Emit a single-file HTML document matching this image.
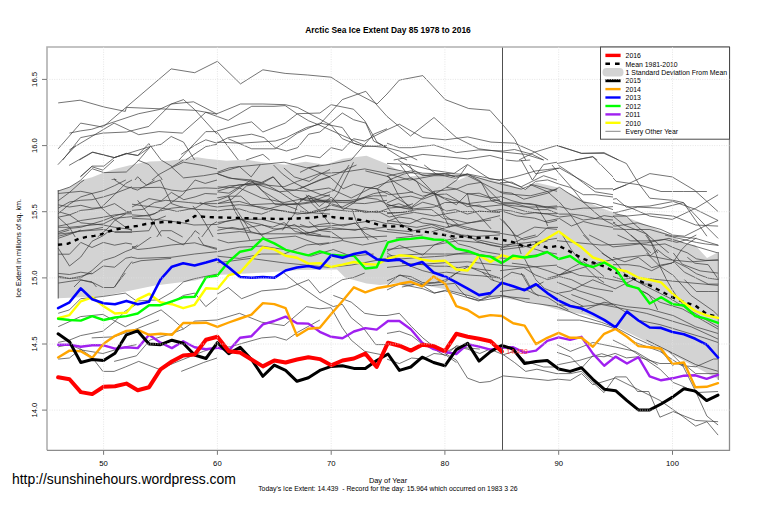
<!DOCTYPE html>
<html><head><meta charset="utf-8"><style>html,body{margin:0;padding:0;background:#fff;}svg{display:block;}</style></head>
<body><svg width="760" height="506" viewBox="0 0 760 506">
<defs><clipPath id="c4"><rect x="47" y="160" width="170" height="20"/><rect x="132" y="237" width="85" height="36"/></clipPath><clipPath id="c7"><rect x="557" y="140" width="170" height="25"/><rect x="613" y="165" width="114" height="88"/><rect x="557" y="240" width="56" height="13"/></clipPath></defs>
<rect x="0" y="0" width="760" height="506" fill="#fff"/>
<polygon points="58.0,191.0 69.7,187.1 80.3,180.5 92.1,177.2 104.0,172.6 115.8,168.7 129.0,165.4 142.1,162.8 150.0,161.4 169.5,160.8 197.0,157.3 206.8,158.8 226.5,160.8 246.3,159.8 266.0,162.7 285.8,164.7 305.6,161.7 325.3,164.7 342.8,158.8 366.5,155.8 386.3,163.7 410.0,176.6 429.8,174.6 445.6,175.6 457.4,180.5 469.3,175.6 478.9,177.5 502.6,182.5 524.3,189.4 536.2,182.5 557.9,187.4 577.7,197.3 580.0,199.0 602.7,208.4 631.0,219.0 655.0,228.6 671.5,235.7 685.7,244.0 695.0,245.0 707.0,258.0 718.0,252.3 718.0,379.0 672.0,354.6 619.0,328.0 586.0,314.9 559.0,310.0 536.0,303.0 502.0,298.0 479.0,298.0 467.0,296.0 445.6,289.3 406.0,282.0 380.0,284.9 366.5,283.4 345.0,277.6 337.0,269.5 300.0,270.0 266.0,272.5 217.0,275.0 195.0,280.5 155.0,285.5 103.0,296.3 58.0,298.3" fill="#d3d3d3" stroke="none"/>
<g fill="none" stroke="#383838" stroke-width="0.7" stroke-linejoin="round">
<polyline points="58.2,102.9 80.1,100.2 104.0,107.0 125.3,111.4 126.4,107.4 194.7,110.3 217.0,114.1"/>
<polyline points="58.2,148.8 80.6,123.1 102.9,127.1 171.2,68.9 194.7,72.7 217.0,61.5"/>
<polyline points="69.4,133.1 80.6,130.9 91.7,129.3 114.1,121.9 138.7,113.7 158.9,109.6 171.2,104.0 183.5,99.6 194.7,109.6 217.0,134.2"/>
<polyline points="69.4,149.9 114.1,123.1 138.7,134.7 158.9,131.6 182.3,133.1 205.8,112.3 217.0,116.4"/>
<polyline points="80.6,137.6 102.9,133.1 126.4,132.0 148.8,126.4 171.2,104.0 193.5,101.8 217.0,114.1"/>
<polyline points="62.7,160.0 80.6,137.6"/>
<polyline points="79.4,160.0 92.9,152.1 114.1,157.7 126.4,153.3 137.6,155.5 148.8,143.6 161.1,160.0"/>
<polyline points="114.1,157.7 149.9,146.6 161.1,144.3 171.2,136.5 183.5,142.1 194.7,160.0"/>
<polyline points="179.0,160.0 194.7,143.2 205.8,131.6 217.0,131.6"/>
<polyline points="181.2,154.4 194.7,145.4 205.8,139.8 217.0,143.2"/>
<polyline points="185.7,160.0 205.8,146.6 217.0,144.3"/>
</g>
<g fill="none" stroke="#383838" stroke-width="0.7" stroke-linejoin="round">
<polyline points="217.0,60.9 240.5,83.9 262.9,69.8 285.2,73.4 307.6,75.0 331.1,77.2 353.5,91.7 377.0,104.0 387.0,94.0"/>
<polyline points="217.0,113.7 240.5,104.0 262.9,104.0 285.2,104.7 297.5,107.4 318.8,118.6 331.1,125.3 342.3,138.7 353.5,143.2 364.7,146.6 387.0,145.4"/>
<polyline points="217.0,116.4 228.2,120.4 251.7,106.3 274.0,106.3 285.2,105.6 297.5,114.1 308.7,120.8 319.9,125.3 342.3,135.4 364.7,145.4 387.0,147.7"/>
<polyline points="217.0,130.9 240.5,124.2 251.7,121.9 262.9,132.0 285.2,123.1 297.5,113.7 319.9,113.0 331.1,104.7 353.5,109.2 364.7,120.8 377.0,142.1 387.0,147.7"/>
<polyline points="217.0,143.2 228.2,137.6 251.7,134.2 264.0,137.6 275.2,147.7 286.4,151.0 297.5,147.7 308.7,134.2 319.9,132.0 342.3,113.0 353.5,119.7 365.8,123.1 373.6,141.0 387.0,147.7"/>
<polyline points="228.2,138.7 251.7,148.8 275.2,148.8 297.5,133.1 319.9,123.1 342.3,127.5 353.5,143.2 364.7,146.6"/>
<polyline points="217.0,142.1 240.5,143.2 275.2,141.0 286.4,137.6 306.5,127.5 319.9,124.2 342.3,99.6 365.8,91.3 377.0,105.2 387.0,116.4"/>
<polyline points="217.0,132.0 238.3,160.0"/>
<polyline points="246.1,160.0 262.9,154.4 269.6,160.0"/>
<polyline points="290.8,160.0 306.5,155.5 319.9,157.7 331.1,147.7 342.3,150.4 353.5,138.7 364.7,141.0 387.0,129.8"/>
<polyline points="351.2,160.0 373.6,134.2 387.0,128.7"/>
</g>
<g fill="none" stroke="#383838" stroke-width="0.7" stroke-linejoin="round">
<polyline points="387.0,94.0 399.3,80.1 422.8,75.6 445.2,99.6 468.7,108.5 489.9,110.3 503.3,125.3 514.5,138.7 525.7,160.0"/>
<polyline points="387.0,116.4 410.5,136.0 434.0,117.5 456.4,137.6 478.7,148.8 503.3,152.1 525.7,154.4 543.6,160.0"/>
<polyline points="387.0,129.8 399.3,124.2 422.8,137.6 445.2,139.8 467.5,136.9 491.0,142.1 514.5,143.2 534.7,152.1 548.1,160.0"/>
<polyline points="387.0,143.2 399.3,147.7 411.6,147.7 434.0,145.0 456.4,152.6 478.7,149.9 503.3,151.0 514.5,149.5 532.4,154.4 543.6,160.0"/>
<polyline points="387.0,147.7 399.3,151.0 417.2,160.0"/>
<polyline points="387.0,148.8 399.3,156.6 407.1,160.0"/>
<polyline points="393.7,160.0 422.8,154.4 445.2,156.6 467.5,158.9 489.9,155.5 503.3,158.9"/>
<polyline points="519.0,160.0 534.7,152.1 557.0,145.4"/>
</g>
<g fill="none" stroke="#383838" stroke-width="0.7" stroke-linejoin="round">
<polyline points="557.0,145.4 581.6,153.3 604.0,152.6 618.5,160.0"/>
<polyline points="574.9,160.0 592.8,156.6 597.3,160.0"/>
</g>
<g clip-path="url(#c4)" fill="none" stroke="#383838" stroke-width="0.7" stroke-linejoin="round">
<polyline points="58.2,191.3 69.4,193.6 91.7,189.1 114.1,179.0 125.3,185.7 136.5,189.1 147.7,184.6 158.9,181.3 171.2,186.8 183.5,191.3 203.6,189.1 217.0,188.0"/>
<polyline points="58.2,200.3 69.4,195.8 91.7,191.3 114.1,182.4 127.5,189.1 137.6,176.8 148.8,186.8 171.2,193.6 183.5,195.8 203.6,199.1 217.0,202.5"/>
<polyline points="58.2,204.7 80.6,196.9 102.9,194.7 114.1,195.8 137.6,200.3 148.8,201.4 158.9,198.0 171.2,193.6 194.7,189.1 217.0,191.3"/>
<polyline points="58.2,211.5 69.4,208.1 92.9,204.7 114.1,203.6 125.3,208.1 137.6,200.3 148.8,215.9 171.2,213.7 183.5,207.0 203.6,199.1 217.0,195.8"/>
<polyline points="58.2,215.9 80.6,213.7 102.9,213.7 114.1,211.5 137.6,213.7 148.8,217.0 171.2,211.5 194.7,203.6 217.0,209.2"/>
<polyline points="58.2,220.4 80.6,215.9 102.9,214.8 125.3,214.8 148.8,219.3 171.2,218.2 194.7,212.6 217.0,213.7"/>
<polyline points="58.2,227.1 80.6,222.6 102.9,218.2 126.4,217.0 148.8,215.9 171.2,221.5 194.7,224.9 217.0,223.8"/>
<polyline points="58.2,231.6 80.6,228.2 91.7,224.9 114.1,229.4 137.6,227.1 158.9,229.4 171.2,233.8 183.5,227.1 194.7,231.6 217.0,233.8"/>
<polyline points="58.2,237.2 80.6,232.7 102.9,229.4 114.1,228.2"/>
<polyline points="58.2,249.5 69.4,265.1 91.7,247.2 114.1,243.9 136.5,247.2 158.9,231.6 171.2,239.4 183.5,245.0 194.7,231.6 203.6,245.0 217.0,248.4"/>
<polyline points="58.2,254.0 80.6,249.5 102.9,248.4 125.3,245.0 137.6,249.5 148.8,248.4 171.2,245.0 194.7,242.8 217.0,249.5"/>
<polyline points="58.2,258.4 91.7,259.6 114.1,254.0 137.6,258.4 171.2,257.3 194.7,254.0 217.0,251.7"/>
<polyline points="69.4,273.0 91.7,265.1 114.1,260.7 137.6,245.0"/>
<polyline points="87.3,273.0 102.9,267.4 125.3,265.1 141.0,260.7 171.2,258.4"/>
<polyline points="80.6,176.8 91.7,166.7 102.9,170.1 114.1,160.0"/>
<polyline points="137.6,160.0 148.8,164.5 161.1,177.9 171.2,196.9 183.5,211.5 194.7,227.1"/>
<polyline points="161.1,160.0 172.3,166.7 183.5,160.0"/>
<polyline points="114.1,179.0 125.3,184.6 136.5,186.8 147.7,183.5 158.9,174.5 171.2,167.8 183.5,162.2 203.6,165.6 217.0,168.9"/>
<polyline points="171.2,166.7 183.5,177.9 203.6,175.7 217.0,173.4"/>
</g>
<g fill="none" stroke="#383838" stroke-width="0.7" stroke-linejoin="round">
<polyline points="217.0,173.4 239.4,166.7 261.7,164.5 284.1,162.2 306.5,167.8 328.9,164.5 351.2,160.0"/>
<polyline points="217.0,173.4 228.2,177.9 250.6,181.3 261.7,182.4 272.9,176.8 284.1,189.1 306.5,191.3 328.9,188.0 351.2,198.0 373.6,186.8 387.0,182.4"/>
<polyline points="217.0,191.3 239.4,184.6 261.7,184.6 284.1,186.8 297.5,181.3 319.9,173.4 342.3,172.3 364.7,168.9 387.0,173.4"/>
<polyline points="217.0,198.0 228.2,195.8 250.6,180.1 264.0,192.4 275.2,204.7 297.5,203.6 308.7,195.8 319.9,200.3 342.3,207.0 353.5,201.4 373.6,193.6 387.0,191.3"/>
<polyline points="217.0,203.6 239.4,201.4 250.6,204.7 272.9,203.6 297.5,204.7 319.9,201.4 342.3,202.5 364.7,203.6 387.0,200.3"/>
<polyline points="217.0,186.8 239.4,188.0 261.7,198.0 284.1,202.5 306.5,198.0 328.9,201.4 351.2,200.3 373.6,195.8 387.0,195.8"/>
<polyline points="217.0,207.0 239.4,204.7 261.7,207.0 284.1,211.5 306.5,213.7 328.9,209.2 351.2,211.5 373.6,211.5 387.0,211.5"/>
<polyline points="217.0,222.6 239.4,219.3 261.7,219.3 284.1,224.9 306.5,227.1 328.9,226.0 351.2,223.8 373.6,220.4 387.0,223.8"/>
<polyline points="217.0,227.1 239.4,229.4 261.7,224.9 272.9,227.1 284.1,222.6 295.3,231.6 306.5,233.8 319.9,229.4 342.3,229.4 364.7,229.4 387.0,227.1"/>
<polyline points="217.0,233.8 239.4,231.6 261.7,233.8 284.1,233.8 306.5,233.8 317.7,236.1 342.3,238.3 364.7,237.2 387.0,236.1"/>
<polyline points="217.0,239.4 228.2,242.8 250.6,240.5 272.9,238.3 295.3,236.1 319.9,245.0 342.3,240.5 362.4,245.0 387.0,240.5"/>
<polyline points="217.0,251.7 239.4,247.2 261.7,246.1 284.1,249.5 311.0,256.2 333.3,249.5 351.2,256.2 373.6,254.0"/>
<polyline points="217.0,256.2 239.4,258.4 261.7,254.0 284.1,254.0 306.5,245.0 328.9,242.8"/>
<polyline points="228.2,196.9 250.6,231.6"/>
<polyline points="353.5,162.2 337.8,193.6 322.1,213.7"/>
<polyline points="217.0,262.9 250.6,258.4 284.1,262.9 306.5,265.1 328.9,267.4 351.2,265.1 387.0,258.4"/>
</g>
<g fill="none" stroke="#383838" stroke-width="0.7" stroke-linejoin="round">
<polyline points="387.0,163.4 409.4,164.5 431.7,170.1 454.1,173.4 467.5,164.5 489.9,179.0 503.3,180.1 521.2,186.8 543.6,175.7 557.0,180.1"/>
<polyline points="398.2,160.0 422.8,175.7 445.2,173.4 467.5,174.5 489.9,181.3 503.3,184.6 521.2,189.1 532.4,184.6 557.0,191.3"/>
<polyline points="505.6,160.0 516.8,161.1 530.2,160.0"/>
<polyline points="521.2,160.0 532.4,180.1 543.6,164.5 557.0,162.2"/>
<polyline points="387.0,173.4 409.4,180.1 434.0,175.7 445.2,175.7 467.5,175.7 489.9,186.8 503.3,193.6 530.2,195.8 557.0,189.1"/>
<polyline points="387.0,182.4 411.6,177.9 434.0,193.6 456.4,204.7 467.5,193.6 489.9,198.0 503.3,202.5 530.2,203.6 557.0,209.2"/>
<polyline points="387.0,191.3 400.4,200.3 411.6,207.0 422.8,198.0 434.0,191.3 456.4,189.1 467.5,184.6 481.0,182.4 503.3,204.7 525.7,207.0 543.6,207.0 557.0,205.9"/>
<polyline points="387.0,204.7 409.4,209.2 434.0,207.0 445.2,202.5 458.6,202.5 481.0,207.0 503.3,204.7 525.7,211.5 543.6,213.7 557.0,213.7"/>
<polyline points="387.0,213.7 409.4,211.5 434.0,215.9 458.6,211.5 481.0,211.5 503.3,211.5 516.8,215.9 534.7,218.2 548.1,222.6 557.0,220.4"/>
<polyline points="387.0,220.4 409.4,223.8 422.8,218.2 445.2,222.6 467.5,229.4 489.9,231.6 503.3,233.8 516.8,236.1 534.7,227.1 557.0,229.4"/>
<polyline points="387.0,229.4 409.4,231.6 431.7,227.1 454.1,233.8 481.0,240.5 503.3,245.0 525.7,242.8 543.6,240.5 557.0,238.3"/>
<polyline points="387.0,249.5 409.4,247.2 434.0,245.0 458.6,240.5 481.0,242.8 503.3,247.2 521.2,245.0 543.6,251.7 557.0,254.0"/>
<polyline points="387.0,256.2 420.6,254.0 442.9,254.0 476.5,254.0 503.3,258.4 525.7,256.2 543.6,254.0"/>
<polyline points="503.3,220.4 512.3,231.6 516.8,240.5 521.2,254.0"/>
<polyline points="434.0,191.3 445.2,215.9 458.6,224.9"/>
<polyline points="387.0,267.4 409.4,265.1 442.9,262.9 467.5,261.8 498.9,265.1 525.7,267.4 557.0,265.1"/>
</g>
<g clip-path="url(#c7)" fill="none" stroke="#383838" stroke-width="0.7" stroke-linejoin="round">
<polyline points="557.0,145.6 581.6,153.4 604.0,153.4 626.4,163.5 638.7,183.6 649.8,198.2 673.3,200.4 683.4,202.6 695.7,220.5 706.9,236.2"/>
<polyline points="557.0,163.5 592.8,156.8 616.3,181.4 638.7,184.7 661.0,191.5 683.4,191.5 706.9,191.5"/>
<polyline points="557.0,166.8 592.8,188.1 604.0,193.7 626.4,184.7 649.8,173.6 672.2,176.9 694.6,190.3 718.1,211.6"/>
<polyline points="557.0,180.3 581.6,193.7 604.0,193.7 626.4,184.7"/>
<polyline points="557.0,193.7 581.6,193.7 601.7,201.5 616.3,198.6 626.4,207.1 649.8,206.0 673.3,201.5 695.7,209.4 718.1,220.5"/>
<polyline points="557.0,200.4 581.6,202.6 604.0,200.4 626.4,206.0 649.8,216.1 672.2,219.4 695.7,208.2 718.1,194.8"/>
<polyline points="557.0,207.1 590.6,211.6 615.2,212.7 637.5,207.1 661.0,208.2 683.4,202.6 706.9,227.2 718.1,238.4"/>
<polyline points="557.0,213.8 581.6,211.6 604.0,216.1 626.4,216.1 649.8,213.8 673.3,216.1 695.7,225.0 718.1,226.1"/>
<polyline points="557.0,216.1 579.4,213.8 592.8,222.8 615.2,226.1 637.5,222.8 661.0,229.5 673.3,235.1 684.5,236.2 706.9,225.0 718.1,220.5"/>
<polyline points="557.0,225.0 579.4,225.0 601.7,228.4 626.4,229.5 649.8,229.5 673.3,236.2 695.7,238.4 718.1,245.1"/>
<polyline points="557.0,166.8 579.4,184.7 601.7,207.1 624.1,225.0 646.5,234.0 668.9,253.0"/>
<polyline points="557.0,178.0 579.4,198.2 601.7,216.1 624.1,229.5 651.0,253.0"/>
<polyline points="615.2,213.8 626.4,216.1 635.3,225.0 646.5,234.0 657.7,253.0"/>
<polyline points="557.0,240.7 601.7,245.1 646.5,242.9 668.9,238.4 691.2,245.1 718.1,253.0"/>
<polyline points="557.0,220.5 568.2,228.4 590.6,216.1 604.0,219.4 615.2,222.8"/>
</g>
<g fill="none" stroke="#383838" stroke-width="0.7" stroke-linejoin="round">
<polyline points="58.2,277.5 69.4,278.6 80.6,276.4 91.7,273.0"/>
<polyline points="58.2,283.1 80.6,279.7 94.0,283.1 102.9,287.5 114.1,287.5 125.3,273.0"/>
<polyline points="58.2,313.3 69.4,309.9 80.6,298.7 91.7,297.6 102.9,296.5 125.3,293.1 136.5,301.0 158.9,299.8 172.3,292.0 183.5,281.9 194.7,278.6 217.0,274.1"/>
<polyline points="58.2,326.7 80.6,316.6 102.9,314.4 125.3,326.7 138.7,320.0 161.1,309.9 172.3,318.9 183.5,328.9"/>
<polyline points="58.2,342.4 69.4,340.1 80.6,335.6 102.9,331.2 114.1,322.2 125.3,311.0 136.5,304.3"/>
<polyline points="58.2,346.8 69.4,344.6 82.8,350.2 102.9,353.5 125.3,346.8 136.5,344.6"/>
<polyline points="58.2,359.1 69.4,358.0 80.6,349.1 91.7,356.9 102.9,371.4 114.1,371.4 125.3,367.0 138.7,361.4 158.9,369.2 181.2,360.2 203.6,351.3 217.0,346.8"/>
<polyline points="114.1,361.4 136.5,355.8 149.9,340.1 172.3,333.4 183.5,328.9 194.7,321.1 217.0,320.0"/>
<polyline points="172.3,302.1 183.5,295.4 194.7,293.1 205.8,306.6 217.0,297.6"/>
<polyline points="91.7,337.9 114.1,336.8 136.5,328.9 158.9,320.0"/>
<polyline points="181.2,371.4 203.6,362.5 217.0,358.0"/>
</g>
<g fill="none" stroke="#383838" stroke-width="0.7" stroke-linejoin="round">
<polyline points="217.0,294.3 228.2,287.5 241.6,298.7 261.7,290.9 286.4,288.7 308.7,279.7 319.9,293.1 342.3,279.7 353.5,277.5 364.7,273.0"/>
<polyline points="284.1,273.0 297.5,284.2 319.9,299.8 333.3,306.6 342.3,304.3 351.2,317.7 362.4,326.7 375.8,344.6 387.0,344.6"/>
<polyline points="217.0,320.0 239.4,313.3 261.7,322.2 284.1,325.6 306.5,306.6 319.9,308.8 331.1,307.7 342.3,327.8 351.2,340.1 364.7,351.3 387.0,355.8"/>
<polyline points="217.0,347.9 230.4,346.8 241.6,343.5 261.7,337.9 275.2,336.8 286.4,340.1 297.5,332.3 319.9,320.0"/>
<polyline points="333.3,295.4 351.2,302.1 364.7,313.3 378.1,315.5 387.0,315.5"/>
</g>
<g fill="none" stroke="#383838" stroke-width="0.7" stroke-linejoin="round">
<polyline points="387.0,280.8 400.4,275.2 422.8,284.2 445.2,281.9 456.4,273.0"/>
<polyline points="387.0,286.4 400.4,284.2 422.8,288.7 434.0,293.1 445.2,290.9 467.5,297.6 478.7,301.0 489.9,296.5 503.3,295.4 525.7,302.1 557.0,306.6"/>
<polyline points="387.0,315.5 399.3,313.3 411.6,326.7 422.8,337.9 434.0,346.8 445.2,352.4 456.4,346.8 467.5,349.1 479.8,353.5 489.9,349.1 503.3,354.7 514.5,351.3 525.7,361.4 543.6,367.0 557.0,367.0"/>
<polyline points="387.0,333.4 399.3,331.2 411.6,335.6 422.8,344.6 434.0,349.1 445.2,355.8 456.4,345.7 467.5,347.9 479.8,349.1"/>
<polyline points="387.0,359.1 399.3,363.6 411.6,358.0 422.8,359.1 434.0,353.5 445.2,354.7 456.4,362.5"/>
<polyline points="445.2,353.5 456.4,360.2 467.5,378.1 479.8,382.6 489.9,381.5 503.3,375.9 525.7,378.1 548.1,380.4 557.0,379.3"/>
<polyline points="503.3,354.7 514.5,362.5 525.7,371.4 536.9,369.2 557.0,373.7"/>
<polyline points="521.2,273.0 530.2,288.7 543.6,281.9"/>
</g>
<g fill="none" stroke="#383838" stroke-width="0.7" stroke-linejoin="round">
<polyline points="557.0,275.4 579.4,268.7 601.7,261.9 624.1,257.5 646.5,255.2 668.9,259.7 691.2,261.9 718.1,259.7"/>
<polyline points="557.0,293.3 570.4,291.0 592.8,279.8 615.2,288.8 637.5,277.6 659.9,279.8 682.3,282.1 718.1,285.4"/>
<polyline points="557.0,304.5 579.4,306.7 601.7,304.5 624.1,308.9 646.5,313.4 668.9,320.1 691.2,326.8 718.1,339.1"/>
<polyline points="557.0,306.7 579.4,315.6 601.7,322.4 616.3,327.9 635.3,338.0 659.9,349.2 673.3,366.0"/>
<polyline points="581.6,311.2 604.0,302.2 626.4,306.7 648.7,308.9 673.3,315.6 695.7,326.8 718.1,333.5"/>
<polyline points="557.0,282.1 579.4,291.0 601.7,297.7 624.1,311.2 637.5,320.1 659.9,324.6 682.3,331.3 704.7,338.0 718.1,342.5"/>
<polyline points="601.7,253.0 615.2,261.9 626.4,275.4 646.5,286.6 668.9,297.7 691.2,311.2 718.1,326.8"/>
<polyline points="646.5,253.0 659.9,266.4 673.3,275.4 691.2,295.5 713.6,311.2 718.1,315.6"/>
<polyline points="673.3,253.0 682.3,264.2 700.2,270.9 718.1,273.1"/>
<polyline points="557.0,266.4 579.4,275.4 601.7,277.6 624.1,282.1 646.5,293.3 659.9,302.2 682.3,308.9 702.4,320.1 718.1,329.1"/>
<polyline points="557.0,344.7 570.4,351.4 592.8,342.5 615.2,347.0 635.3,351.4 657.7,364.9"/>
<polyline points="557.0,364.9 579.4,360.4 601.7,353.7 615.2,358.1"/>
<polyline points="557.0,320.1 579.4,320.1 601.7,324.6 616.3,329.1 635.3,342.5 659.9,351.4 682.3,366.0"/>
</g>
<g fill="none" stroke="#383838" stroke-width="0.7" stroke-linejoin="round">
<polyline points="557.0,352.3 570.4,356.8 581.6,368.0 592.8,355.7 604.0,356.8 615.2,353.4 626.4,357.9 637.5,356.8 648.7,360.1 659.9,363.5 673.3,363.5 684.5,364.6 695.7,373.6 718.1,373.6"/>
<polyline points="557.0,373.6 570.4,373.6 581.6,371.3 592.8,382.5 604.0,392.6 615.2,376.9 626.4,376.9 637.5,391.5 648.7,391.5 659.9,417.2 673.3,411.6 684.5,416.1 695.7,420.5 718.1,421.7"/>
<polyline points="557.0,379.1 570.4,380.3 581.6,373.6 592.8,384.7 604.0,381.4 615.2,378.0 637.5,389.2 659.9,400.4 682.3,416.1 695.7,426.1 706.9,421.7 718.1,435.1"/>
<polyline points="612.9,340.0 626.4,346.7 646.5,360.1 659.9,369.1 673.3,382.5 684.5,387.0 695.7,392.6 718.1,391.5"/>
<polyline points="668.9,351.2 682.3,364.6 695.7,391.5 706.9,416.1 718.1,425.0"/>
<polyline points="682.3,365.7 695.7,366.8 713.6,359.0 718.1,359.0"/>
<polyline points="646.5,340.0 673.3,353.4 695.7,364.6 718.1,371.3"/>
</g>
<g fill="none" stroke="#383838" stroke-width="0.7" stroke-linejoin="round">
<polyline points="58.1,193.5 69.5,192.4 80.8,191.3 92.0,193.5 103.3,190.7 114.6,185.6 125.8,180.0"/>
<polyline points="58.1,200.8 69.5,192.4 80.8,182.3 84.2,180.0"/>
<polyline points="58.1,208.2 69.5,202.0 80.8,200.3 92.0,199.7 103.3,196.9 114.6,193.5 126.4,189.0 132.0,186.8"/>
<polyline points="58.1,204.8 69.5,207.0 80.8,205.3 92.0,208.2 103.3,207.6 114.6,203.6 126.4,211.5 132.0,211.5"/>
<polyline points="58.1,213.8 69.5,204.2 80.8,196.9 92.0,193.5 101.1,207.6 114.6,219.4 125.8,227.3 132.0,230.7"/>
<polyline points="58.1,217.2 69.5,214.9 80.8,210.4 92.0,209.3 101.1,207.6 114.6,194.6 125.8,183.4 132.0,180.0"/>
<polyline points="58.1,226.2 69.5,223.9 80.8,220.5 92.0,218.9 103.3,217.2 114.6,214.9 126.4,213.8 132.0,213.8"/>
<polyline points="58.1,211.5 69.5,214.9 80.8,222.8 92.0,223.9 103.3,225.0 114.6,227.3 132.0,229.5"/>
<polyline points="58.1,227.3 69.5,227.3 80.8,226.2 92.0,225.0 103.3,223.9 114.6,218.3 126.4,217.2 132.0,216.6"/>
<polyline points="58.1,231.8 69.5,228.4 80.8,227.3 103.3,220.5 114.6,216.0 126.4,212.7 132.0,212.1"/>
<polyline points="58.1,217.2 69.5,227.3 75.2,237.0"/>
<polyline points="58.1,234.1 69.5,232.9 80.8,231.2 103.3,229.5 114.6,231.8 132.0,231.8"/>
<polyline points="114.6,180.0 125.8,186.8 132.0,187.9"/>
<polyline points="58.1,236.3 80.8,230.7 92.0,229.5 103.3,227.3"/>
<polyline points="97.7,237.0 108.9,227.3 114.6,220.5 125.8,213.8"/>
</g>
<g fill="none" stroke="#383838" stroke-width="0.7" stroke-linejoin="round">
<polyline points="132.0,188.4 137.6,190.1 146.6,185.1 160.2,180.0"/>
<polyline points="139.9,180.0 146.6,185.1 154.5,180.0"/>
<polyline points="132.0,187.9 160.2,187.3 171.4,190.1 182.7,191.3 193.9,188.4 205.2,187.9 217.0,188.4"/>
<polyline points="160.2,180.0 165.8,191.3 171.4,203.6 181.5,207.0 195.1,209.3 217.0,210.4"/>
<polyline points="137.6,200.3 148.9,214.9 161.3,236.3"/>
<polyline points="132.0,204.2 143.3,205.9 154.5,207.0 165.8,208.7 177.0,211.5 188.3,209.3 195.1,208.2 205.2,202.5 217.0,200.3"/>
<polyline points="132.0,207.0 148.9,198.6 161.3,200.8 171.4,192.4 183.8,199.7 195.1,196.9 205.2,193.5 217.0,194.1"/>
<polyline points="132.0,217.2 143.3,216.0 154.5,213.8 171.4,202.5 182.7,194.6 195.1,180.0"/>
<polyline points="132.0,218.3 154.5,219.4 165.8,220.5 182.7,222.8 193.9,225.0 217.0,224.5"/>
<polyline points="132.0,214.9 148.9,216.0 160.2,211.0 171.4,208.2 182.7,207.0"/>
<polyline points="132.0,231.8 148.9,230.7 154.5,220.5 165.8,216.0"/>
<polyline points="156.8,237.0 161.3,230.7 171.4,230.7 182.7,237.0"/>
<polyline points="190.6,237.0 195.1,230.7 199.6,234.1"/>
<polyline points="195.1,180.0 205.2,183.4 217.0,180.0"/>
<polyline points="192.8,205.9 199.6,213.8 206.3,225.0 213.1,237.0"/>
<polyline points="199.6,202.5 210.8,205.9 217.0,207.0"/>
<polyline points="201.8,237.0 210.8,225.0 217.0,221.7"/>
<polyline points="132.0,210.4 143.3,209.3 154.5,202.5 165.8,200.3 177.0,201.4 188.3,202.5 199.6,203.6 217.0,203.6"/>
</g>
<g fill="none" stroke="#383838" stroke-width="0.7" stroke-linejoin="round">
<polyline points="58.1,233.4 69.5,230.0"/>
<polyline points="58.1,238.4 69.5,234.5 80.8,230.0"/>
<polyline points="58.1,254.2 69.5,254.2 80.8,242.4 92.0,247.5 103.3,242.4 114.6,245.2 125.8,243.0 132.0,244.1"/>
<polyline points="58.1,248.0 69.5,266.0 80.8,257.0 92.0,241.3 103.3,235.6 110.1,230.0"/>
<polyline points="58.1,273.4 69.5,274.5 80.8,272.2 92.0,273.9 103.3,266.0 114.6,267.2 125.8,258.2 132.0,257.0"/>
<polyline points="58.1,276.2 69.5,278.4 80.8,277.9 92.0,270.5 103.3,260.4 114.6,257.0 125.8,251.4 132.0,249.1"/>
<polyline points="74.0,287.0 80.8,280.1 92.0,281.8 96.5,287.0"/>
<polyline points="114.6,287.0 125.8,269.4 132.0,261.5"/>
<polyline points="114.6,232.3 125.8,232.3 132.0,232.3"/>
</g>
<g fill="none" stroke="#383838" stroke-width="0.7" stroke-linejoin="round">
<polyline points="387.0,176.2 410.8,170.9 422.7,173.2 443.5,173.9 455.4,176.9 467.3,173.9 482.2,176.9 500.0,180.6"/>
<polyline points="400.4,165.0 410.8,178.4 416.7,181.4 422.7,191.8 434.6,194.0 446.5,187.3 455.4,188.8 467.3,194.0 479.2,193.2 491.1,197.7 500.0,197.0"/>
<polyline points="387.0,176.2 395.9,182.8 410.8,191.8 422.7,196.2 434.6,193.2 443.5,197.7 455.4,200.7 467.3,203.7 479.2,202.2 500.0,199.9"/>
<polyline points="387.0,202.9 398.9,197.7 410.8,196.2 422.7,199.2 434.6,194.7 446.5,194.0 455.4,199.2 467.3,206.6 479.2,205.1 491.1,211.1 500.0,209.6"/>
<polyline points="387.0,206.6 398.9,203.7 410.8,208.1 422.7,202.2 434.6,205.1 446.5,211.1 455.4,209.6 467.3,214.1 479.2,211.1 500.0,212.6"/>
<polyline points="387.0,212.6 401.9,212.6 416.7,209.6 431.6,209.6 443.5,218.5 455.4,220.0 467.3,223.0 479.2,221.5 491.1,220.0"/>
<polyline points="387.0,221.5 398.9,217.0 410.8,218.5 422.7,223.0 434.6,224.5 446.5,227.4 455.4,224.5 467.3,227.4 479.2,230.4 500.0,231.9"/>
<polyline points="409.3,165.0 413.8,172.4 434.6,194.0 443.5,215.6 449.4,227.4"/>
<polyline points="424.2,165.0 436.1,173.9 455.4,178.4 467.3,173.9 480.7,181.4 491.1,200.7 500.0,203.7"/>
<polyline points="467.3,165.0 456.9,179.9 446.5,187.3"/>
<polyline points="387.0,168.0 409.3,172.4 427.1,175.4 446.5,173.9 455.4,176.9"/>
<polyline points="387.0,223.0 416.7,227.4 431.6,224.5 446.5,230.4 461.3,234.9 476.2,236.4 500.0,234.9"/>
<polyline points="431.6,231.9 446.5,227.4 461.3,224.5 476.2,221.5 500.0,215.6"/>
<polyline points="467.3,193.2 470.3,206.6 479.2,215.6 491.1,228.9"/>
</g>
<g fill="none" stroke="#383838" stroke-width="0.7" stroke-linejoin="round">
<polyline points="529.7,165.0 535.7,173.9 559.5,168.0 569.9,173.9 583.3,181.4 595.2,188.8 613.0,188.8"/>
<polyline points="500.0,179.9 514.9,176.9 535.7,170.9 547.6,169.5 559.5,168.0"/>
<polyline points="500.0,182.8 511.9,182.1 525.3,189.5 535.7,181.4 547.6,179.9 559.5,184.3 569.9,187.3 583.3,194.7 595.2,194.7 613.0,197.0"/>
<polyline points="552.0,165.0 559.5,173.9 571.4,187.3 583.3,202.2 595.2,212.6 604.1,220.0 613.0,224.5"/>
<polyline points="558.0,165.0 571.4,173.9 583.3,182.8 595.2,191.8 613.0,194.7"/>
<polyline points="601.1,165.0 613.0,176.9"/>
<polyline points="500.0,191.8 511.9,193.2 523.8,199.2 547.6,193.2 559.5,187.3 568.4,193.2 583.3,202.2 595.2,203.7 613.0,209.6"/>
<polyline points="500.0,196.2 511.9,200.7 523.8,203.7 535.7,205.1 547.6,208.1 559.5,206.6 571.4,209.6 583.3,208.1 595.2,208.1 613.0,206.6"/>
<polyline points="500.0,203.7 514.9,203.7 523.8,205.9 535.7,209.6 547.6,209.6 559.5,214.1 571.4,214.1 583.3,215.6 595.2,218.5 613.0,220.0"/>
<polyline points="500.0,209.6 511.9,211.1 523.8,214.1 535.7,212.6 547.6,214.1 559.5,217.0 571.4,215.6 583.3,220.0 595.2,218.5 604.1,215.6 613.0,217.0"/>
<polyline points="529.7,184.3 547.6,191.8 559.5,202.2 569.9,214.1 577.3,224.5 583.3,233.4 589.2,239.9"/>
<polyline points="500.0,218.5 508.9,227.4 514.9,234.9 523.8,239.9"/>
<polyline points="523.8,239.9 537.2,236.4 547.6,227.4 558.0,227.4"/>
<polyline points="535.7,205.1 546.1,221.5 547.6,226.0"/>
<polyline points="544.6,221.5 559.5,218.5 571.4,226.0 583.3,221.5 595.2,224.5 613.0,227.4"/>
</g>
<g fill="none" stroke="#383838" stroke-width="0.7" stroke-linejoin="round">
<polyline points="387.0,251.4 399.6,245.4 422.7,255.1 434.6,244.7 446.5,240.2 456.9,238.0"/>
<polyline points="395.9,238.0 410.8,236.5 422.7,235.0"/>
<polyline points="387.0,252.8 398.9,260.3 410.8,266.2 422.7,270.7 434.6,273.7 446.5,272.2 458.4,273.7 470.3,275.1 482.2,275.9 500.0,278.1"/>
<polyline points="387.0,257.3 401.9,258.8 422.7,257.3 434.6,256.6 446.5,255.8 458.4,253.6 470.3,252.1 482.2,257.3"/>
<polyline points="401.9,263.2 422.7,264.7 434.6,266.2 446.5,266.2 458.4,267.7 467.3,266.2 482.2,272.2 500.0,278.1"/>
<polyline points="387.0,285.6 398.9,275.1 410.8,276.6 422.7,282.6 434.6,282.6 446.5,279.6 455.4,273.7 467.3,267.0 479.2,269.2 491.1,270.7"/>
<polyline points="387.0,290.0 398.9,284.1 410.8,284.1 422.7,285.6 434.6,293.0 446.5,290.0 458.4,293.0 470.3,296.0 482.2,300.4 500.0,297.4"/>
<polyline points="401.9,287.0 416.7,284.1 431.6,285.6 446.5,284.1 455.4,283.3"/>
<polyline points="455.4,284.1 461.3,291.5 467.3,297.4 479.2,300.4 491.1,294.5"/>
<polyline points="449.4,236.5 458.4,243.9 470.3,246.9 482.2,251.4 500.0,254.3"/>
<polyline points="467.3,235.0 476.2,240.9 491.1,245.4 500.0,246.9"/>
<polyline points="482.2,272.2 491.1,279.6 500.0,282.6"/>
<polyline points="479.2,257.3 485.1,269.2 494.0,281.1"/>
</g>
<g fill="none" stroke="#383838" stroke-width="0.7" stroke-linejoin="round">
<polyline points="500.0,248.4 511.9,243.9 523.8,238.0 535.7,235.0"/>
<polyline points="500.0,249.9 511.9,248.4 523.8,246.9 535.7,243.9 547.6,240.9"/>
<polyline points="511.9,263.2 523.8,264.7 535.7,267.0 547.6,270.7 559.5,275.1 571.4,272.2"/>
<polyline points="500.0,270.7 523.8,267.7 535.7,275.1 547.6,279.6 559.5,276.6 571.4,279.6 583.3,285.6 595.2,288.5 613.0,291.5"/>
<polyline points="500.0,279.6 511.9,272.2 523.8,275.1 532.7,291.5 538.7,296.0"/>
<polyline points="523.8,257.3 535.7,279.6 544.6,288.5 559.5,294.5 571.4,300.4 583.3,306.4"/>
<polyline points="500.0,291.5 511.9,290.0 523.8,288.5 535.7,294.5 547.6,297.4 559.5,304.9 568.4,309.9"/>
<polyline points="547.6,278.1 559.5,275.1 571.4,267.7 583.3,261.8 595.2,269.2 604.1,276.6"/>
<polyline points="562.4,235.0 571.4,249.9 583.3,264.7 595.2,276.6 604.1,282.6"/>
<polyline points="583.3,235.0 592.2,243.9 604.1,254.3 613.0,260.3"/>
<polyline points="589.2,235.0 604.1,242.4 613.0,246.9"/>
<polyline points="571.4,294.5 583.3,298.9 595.2,303.4 613.0,304.9"/>
<polyline points="500.0,296.0 514.9,297.4 529.7,298.9"/>
</g>
<g fill="none" stroke="#383838" stroke-width="0.7" stroke-linejoin="round">
<polyline points="613.0,246.9 627.9,245.4 639.8,243.9 651.7,245.4 665.0,243.9 675.4,248.4 687.3,252.8 696.3,258.8 705.2,260.3 718.6,260.3"/>
<polyline points="617.5,235.0 630.8,240.9 650.2,240.9 665.0,239.5 676.9,242.4 687.3,239.5 696.3,235.0"/>
<polyline points="630.8,235.0 639.8,242.4 650.2,255.8 657.6,249.9 665.0,255.8 675.4,261.8"/>
<polyline points="645.7,235.0 651.7,243.9 656.1,254.3 660.6,267.7 666.5,279.6 672.5,290.0 678.4,298.9 684.4,306.4"/>
<polyline points="613.0,257.3 624.9,261.8 638.3,257.3 651.7,267.7 662.1,264.7 672.5,263.2 681.4,249.9 687.3,243.9 696.3,238.0"/>
<polyline points="613.0,264.7 627.9,264.7 639.8,266.2 651.7,270.7 660.6,266.2 675.4,261.8 687.3,267.7 696.3,273.7 708.2,278.1 718.6,279.6"/>
<polyline points="675.4,263.2 684.4,272.2 696.3,278.1 708.2,284.1 718.6,284.1"/>
<polyline points="687.3,257.3 694.8,263.2 708.2,264.7 718.6,279.6"/>
<polyline points="665.0,235.0 676.9,238.0 696.3,242.4 705.2,243.9 718.6,245.4"/>
<polyline points="684.4,279.6 696.3,291.5 708.2,291.5 718.6,291.5"/>
<polyline points="642.7,291.5 648.7,294.5 654.6,303.4 657.6,309.9"/>
<polyline points="613.0,276.6 621.9,279.6 630.8,278.1 642.7,284.1 651.7,284.1"/>
</g>
<g fill="none" stroke="#383838" stroke-width="0.7" stroke-linejoin="round">
<polyline points="217.0,172.4 228.9,168.0 239.3,166.5 251.2,176.9 260.1,165.0"/>
<polyline points="217.0,173.9 231.9,178.4 251.2,179.9 266.1,184.3 279.4,191.8 297.3,203.7 309.2,212.6 330.0,214.1"/>
<polyline points="217.0,188.8 228.9,185.8 240.8,185.1 251.2,182.8 261.6,183.6 273.5,176.9 282.4,187.3 294.3,196.2 306.2,200.7 321.1,202.2 330.0,200.7"/>
<polyline points="217.0,191.8 228.9,193.2 240.8,185.8 252.7,182.8 266.1,187.3 279.4,191.8 294.3,190.3 306.2,185.8 321.1,179.9 330.0,176.9"/>
<polyline points="217.0,200.7 228.9,196.2 240.8,196.2 251.2,205.1 266.1,209.6 282.4,205.1 297.3,203.7 309.2,202.2 330.0,194.7"/>
<polyline points="217.0,203.7 231.9,199.2 246.7,185.8 257.1,184.3 261.6,190.3 273.5,197.7 285.4,205.1 297.3,209.6"/>
<polyline points="228.9,196.2 234.8,211.1 239.3,218.5 243.8,227.4 249.7,239.9"/>
<polyline points="217.0,211.1 225.9,209.6 239.3,208.9 251.2,212.6 261.6,214.1 273.5,209.6 285.4,211.1 297.3,214.1 309.2,212.6 321.1,211.1 330.0,209.6"/>
<polyline points="217.0,224.5 225.9,221.5 239.3,218.5 246.7,221.5 261.6,224.5 273.5,228.9 282.4,228.9 294.3,224.5 306.2,231.9 321.1,234.9"/>
<polyline points="217.0,230.4 231.9,227.4 246.7,230.4 261.6,234.9 273.5,230.4 285.4,227.4 297.3,228.9 306.2,234.9 330.0,236.4"/>
<polyline points="273.5,165.0 282.4,173.9 294.3,182.8 306.2,188.8 321.1,194.7 330.0,196.2"/>
<polyline points="283.9,168.0 294.3,176.9 309.2,181.4 321.1,173.9 330.0,169.5"/>
<polyline points="297.3,205.1 294.3,214.1 288.4,221.5 282.4,230.4"/>
<polyline points="306.2,194.7 312.2,203.7 321.1,212.6 330.0,224.5"/>
<polyline points="239.3,218.5 254.2,227.4 266.1,239.9"/>
</g>
<g fill="none" stroke="#383838" stroke-width="0.7" stroke-linejoin="round">
<polyline points="300.0,172.4 308.9,168.0 319.3,165.0"/>
<polyline points="308.9,168.0 329.7,176.9 343.1,188.8 353.5,184.3 365.4,187.3 377.3,188.8 389.2,194.7 404.1,193.2 413.0,191.8"/>
<polyline points="300.0,188.8 319.3,179.9 337.2,173.9 349.1,168.0 356.5,165.0"/>
<polyline points="349.1,165.0 343.1,173.9 334.2,190.3 322.3,194.7 308.9,199.2"/>
<polyline points="300.0,200.7 308.9,195.5 319.3,206.6 331.2,197.0 343.1,209.6 355.0,202.2 365.4,187.3 377.3,188.8 389.2,179.9 404.1,173.9 413.0,172.4"/>
<polyline points="300.0,199.2 314.9,200.7 329.7,199.9 343.1,200.7 355.0,201.4 365.4,197.7 377.3,199.2 389.2,205.1 404.1,208.1 413.0,208.1"/>
<polyline points="300.0,211.1 308.9,212.6 319.3,209.6 331.2,205.1 343.1,208.1 355.0,209.6 365.4,211.1 377.3,212.6 389.2,208.1 404.1,206.6 413.0,203.7"/>
<polyline points="365.4,170.9 389.2,176.9 398.1,194.7 407.0,205.1 413.0,209.6"/>
<polyline points="300.0,224.5 308.9,227.4 319.3,224.5 331.2,223.0 343.1,226.0 355.0,223.0 365.4,233.4 377.3,239.3"/>
<polyline points="300.0,233.4 314.9,231.9 329.7,227.4 343.1,228.9 355.0,230.4 365.4,227.4 377.3,230.4 389.2,231.9 404.1,233.4 413.0,234.9"/>
<polyline points="377.3,188.8 383.3,200.7 392.2,214.1 401.1,224.5 413.0,230.4"/>
<polyline points="355.0,209.6 365.4,212.6 377.3,211.1 389.2,217.0 404.1,214.1 413.0,212.6"/>
<polyline points="352.0,209.6 356.5,221.5 362.4,231.9 368.4,239.9"/>
<polyline points="308.9,221.5 319.3,230.4 331.2,231.9 343.1,239.9"/>
</g>
<g fill="none" stroke="#383838" stroke-width="0.7" stroke-linejoin="round">
<polyline points="57.9,164.7 76.3,145.0"/>
<polyline points="69.1,165.4 92.1,152.2 114.5,157.5 126.3,153.6 138.2,155.5 150.0,147.0"/>
<polyline points="80.3,176.6 92.1,166.1 103.9,166.1 114.5,157.5"/>
<polyline points="57.9,191.1 69.7,187.1 80.3,180.5 92.1,168.7 103.9,172.6 126.3,172.0 138.2,160.8 150.0,147.0"/>
</g>
<line x1="58.2" y1="190" x2="58.2" y2="298.5" stroke="#444" stroke-width="0.9"/>
<line x1="718.3" y1="252" x2="718.3" y2="380" stroke="#666" stroke-width="0.9"/>
<polyline points="58.0,244.8 67.7,243.8 78.6,238.9 86.5,236.9 94.4,235.9 102.3,234.0 110.2,231.0 118.1,229.0 128.0,227.0 137.0,226.0 145.8,224.0 154.7,223.0 163.6,222.0 171.5,222.0 181.4,223.0 189.3,220.0 195.0,216.0 207.0,217.0 240.0,218.0 280.0,219.0 310.0,218.0 325.0,216.0 339.0,218.0 352.7,218.7 366.5,221.0 378.0,224.6 390.0,226.6 402.0,226.0 414.0,231.3 426.0,231.9 437.7,233.9 453.5,236.4 465.0,236.8 477.0,237.8 490.3,237.4 501.8,239.8 513.2,242.1 524.6,246.7 535.9,243.3 547.3,247.7 558.7,245.7 570.1,251.6 581.4,258.0 592.8,262.5 604.2,266.4 615.6,272.4 627.0,276.0 638.3,280.4 649.7,285.3 661.1,291.3 672.5,297.2 683.8,302.0 695.2,305.5 706.6,314.0 718.0,317.0" fill="none" stroke="#000" stroke-width="2.4" stroke-dasharray="4.2 4.5"/>
<polyline points="58.1,318.1 69.5,315.1 80.8,301.3 92.2,297.3 103.6,306.2 115.0,313.5 126.4,312.7 137.7,299.3 149.1,293.8 160.5,302.3 171.9,304.2 183.2,308.2 194.6,304.8 206.0,288.3 217.4,288.9 228.8,275.1 240.1,272.5 251.5,259.6 262.9,247.4 274.3,249.4 285.6,255.7 297.0,257.7 308.4,263.6 319.8,263.2 331.2,266.9 342.5,264.6 353.9,262.0 365.3,264.0 376.7,264.6 388.0,258.7 399.4,255.3 410.8,256.1 422.2,259.6 433.6,261.2 444.9,260.6 456.3,269.5 467.7,270.5 479.1,255.2 490.5,261.9 501.8,255.2 513.2,258.5 524.6,257.5 536.0,244.7 547.3,238.2 558.7,231.5 570.1,239.8 581.5,247.3 592.9,257.5 604.2,261.1 615.6,268.9 627.0,271.5 638.4,277.8 649.7,279.8 661.1,282.4 672.5,293.6 683.9,302.7 695.3,311.0 706.6,315.4 718.0,317.9" fill="none" stroke="#ffff00" stroke-width="2.4" stroke-linejoin="round" stroke-linecap="round"/>
<polyline points="58.1,344.7 69.5,344.7 80.8,346.7 92.2,345.3 103.6,345.3 115.0,348.7 126.4,347.3 137.7,348.1 149.1,334.8 160.5,342.7 171.9,348.1 183.2,341.3 194.6,347.2 206.0,349.2 217.4,347.7 228.8,350.6 240.1,337.8 251.5,336.2 262.9,324.4 274.3,321.0 285.6,316.6 297.0,323.2 308.4,323.6 319.8,331.8 331.2,336.8 342.5,338.2 353.9,331.5 365.3,328.1 376.7,329.6 388.0,321.0 399.4,321.0 410.8,329.2 422.2,342.7 433.6,349.2 444.9,352.0 456.3,354.0 467.7,344.1 479.1,346.7 490.5,349.6 501.8,347.7 513.2,347.3 524.6,352.6 536.0,350.6 547.3,340.8 558.7,337.4 570.1,339.8 581.5,336.8 592.9,353.6 604.2,365.8 615.6,356.6 627.0,363.5 638.4,357.2 649.7,376.3 661.1,380.3 672.5,378.3 683.9,375.7 695.3,375.3 706.6,378.9 718.0,374.9" fill="none" stroke="#a020f0" stroke-width="2.4" stroke-linejoin="round" stroke-linecap="round"/>
<polyline points="58.1,318.7 69.5,320.0 80.8,320.6 92.2,316.1 103.6,320.0 115.0,317.5 126.4,316.1 137.7,313.5 149.1,305.2 160.5,305.2 171.9,301.3 183.2,297.3 194.6,296.8 206.0,277.4 217.4,275.5 228.8,261.6 240.1,251.7 251.5,249.4 262.9,238.3 274.3,243.4 285.6,249.8 297.0,252.7 308.4,255.3 319.8,251.3 331.2,254.7 342.5,255.7 353.9,255.7 365.3,268.5 376.7,267.2 388.0,242.3 399.4,239.5 410.8,238.9 422.2,237.5 433.6,239.5 444.9,239.9 456.3,248.8 467.7,251.0 479.1,255.2 490.5,256.6 501.8,263.1 513.2,255.6 524.6,257.5 536.0,256.0 547.3,252.0 558.7,259.1 570.1,256.0 581.5,263.9 592.9,267.0 604.2,262.5 615.6,268.9 627.0,285.3 638.4,288.3 649.7,303.5 661.1,297.2 672.5,304.1 683.9,305.5 695.3,316.0 706.6,318.9 718.0,322.9" fill="none" stroke="#00ff00" stroke-width="2.4" stroke-linejoin="round" stroke-linecap="round"/>
<polyline points="58.1,308.2 69.5,302.3 80.8,288.4 92.2,299.3 103.6,303.2 115.0,304.2 126.4,300.9 137.7,304.2 149.1,301.7 160.5,279.5 171.9,266.7 183.2,263.3 194.6,265.5 206.0,262.6 217.4,259.2 228.8,267.5 240.1,277.0 251.5,277.8 262.9,277.0 274.3,277.8 285.6,270.5 297.0,267.5 308.4,266.0 319.8,268.5 331.2,255.3 342.5,257.7 353.9,254.1 365.3,251.7 376.7,259.2 388.0,260.6 399.4,259.6 410.8,265.6 422.2,262.0 433.6,272.5 444.9,276.4 456.3,282.4 467.7,288.7 479.1,295.1 490.5,293.1 501.8,282.8 513.2,286.2 524.6,290.2 536.0,284.2 547.3,293.1 558.7,300.6 570.1,306.0 581.5,308.5 592.9,313.9 604.2,319.8 615.6,327.3 627.0,311.5 638.4,320.5 649.7,327.5 661.1,327.9 672.5,331.9 683.9,334.2 695.3,338.8 706.6,344.7 718.0,357.5" fill="none" stroke="#0000ff" stroke-width="2.6" stroke-linejoin="round" stroke-linecap="round"/>
<polyline points="58.1,357.5 69.5,350.6 80.8,351.2 92.2,357.9 103.6,343.7 115.0,335.8 126.4,330.9 137.7,329.9 149.1,334.8 160.5,333.8 171.9,334.8 183.2,323.0 194.6,323.0 206.0,322.7 217.4,326.8 228.8,322.5 240.1,318.5 251.5,314.6 262.9,303.1 274.3,304.1 285.6,308.1 297.0,335.8 308.4,328.8 319.8,327.8 331.2,314.0 342.5,301.0 353.9,287.3 365.3,292.3 376.7,288.3 388.0,286.3 399.4,283.8 410.8,281.8 422.2,286.3 433.6,276.4 444.9,283.4 456.3,306.1 467.7,310.0 479.1,317.3 490.5,315.1 501.8,316.0 513.2,323.3 524.6,325.6 536.0,344.1 547.3,337.8 558.7,332.8 570.1,337.8 581.5,337.8 592.9,346.7 604.2,333.8 615.6,328.9 627.0,336.8 638.4,346.1 649.7,347.3 661.1,348.7 672.5,363.9 683.9,362.5 695.3,387.2 706.6,386.8 718.0,383.2" fill="none" stroke="#ffa500" stroke-width="2.4" stroke-linejoin="round" stroke-linecap="round"/>
<polyline points="58.1,333.8 69.5,341.7 80.8,362.5 92.2,359.5 103.6,360.5 115.0,353.2 126.4,334.8 137.7,330.9 149.1,344.1 160.5,344.7 171.9,340.2 183.2,343.3 194.6,355.0 206.0,358.5 217.4,342.7 228.8,353.6 240.1,347.3 251.5,359.5 262.9,376.3 274.3,365.1 285.6,370.4 297.0,381.3 308.4,377.7 319.8,370.4 331.2,366.4 342.5,365.8 353.9,368.4 365.3,368.4 376.7,360.5 388.0,354.0 399.4,370.4 410.8,367.0 422.2,357.2 433.6,362.5 444.9,365.8 456.3,349.6 467.7,343.3 479.1,361.1 490.5,351.6 501.8,345.3 513.2,349.2 524.6,363.5 536.0,361.5 547.3,360.5 558.7,369.0 570.1,371.4 581.5,367.8 592.9,379.3 604.2,389.2 615.6,390.7 627.0,400.6 638.4,409.9 649.7,409.9 661.1,404.0 672.5,397.1 683.9,388.8 695.3,391.1 706.6,400.6 718.0,395.1" fill="none" stroke="#000000" stroke-width="3" stroke-linejoin="round" stroke-linecap="round"/>
<polyline points="58.1,377.3 69.5,379.3 80.8,392.1 92.2,394.1 103.6,386.8 115.0,386.2 126.4,383.6 137.7,390.2 149.1,387.2 160.5,369.4 171.9,361.5 183.2,355.6 194.6,354.6 206.0,339.8 217.4,336.8 228.8,351.2 240.1,352.6 251.5,359.5 262.9,366.4 274.3,360.5 285.6,362.5 297.0,359.5 308.4,357.2 319.8,359.1 331.2,365.3 342.5,360.5 353.9,358.5 365.3,353.6 376.7,367.0 388.0,342.7 399.4,345.7 410.8,350.6 422.2,344.7 433.6,346.1 444.9,351.2 456.3,333.8 467.7,336.8 479.1,338.8 490.5,341.3 501.8,351.6" fill="none" stroke="#ff0000" stroke-width="4.0" stroke-linejoin="round" stroke-linecap="round"/>
<line x1="502.5" y1="47" x2="502.5" y2="450.3" stroke="#505050" stroke-width="1"/>
<text x="506.3" y="354.4" font-size="7.1" fill="#ff3a3a" font-family='"Liberation Sans", sans-serif'>14.439</text>
<path d="M47,450.3 L47,47 L729.5,47" fill="none" stroke="#b0b0b0" stroke-width="1.6"/>
<path d="M47,450.3 L729.5,450.3 L729.5,47" fill="none" stroke="#8c8c8c" stroke-width="1.3"/>
<line x1="103.6" y1="450.3" x2="103.6" y2="454.8" stroke="#777" stroke-width="1"/>
<text x="103.6" y="466" font-size="7.7" text-anchor="middle" font-family='"Liberation Sans", sans-serif'>50</text>
<line x1="217.4" y1="450.3" x2="217.4" y2="454.8" stroke="#777" stroke-width="1"/>
<text x="217.4" y="466" font-size="7.7" text-anchor="middle" font-family='"Liberation Sans", sans-serif'>60</text>
<line x1="331.2" y1="450.3" x2="331.2" y2="454.8" stroke="#777" stroke-width="1"/>
<text x="331.2" y="466" font-size="7.7" text-anchor="middle" font-family='"Liberation Sans", sans-serif'>70</text>
<line x1="444.9" y1="450.3" x2="444.9" y2="454.8" stroke="#777" stroke-width="1"/>
<text x="444.9" y="466" font-size="7.7" text-anchor="middle" font-family='"Liberation Sans", sans-serif'>80</text>
<line x1="558.7" y1="450.3" x2="558.7" y2="454.8" stroke="#777" stroke-width="1"/>
<text x="558.7" y="466" font-size="7.7" text-anchor="middle" font-family='"Liberation Sans", sans-serif'>90</text>
<line x1="672.5" y1="450.3" x2="672.5" y2="454.8" stroke="#777" stroke-width="1"/>
<text x="672.5" y="466" font-size="7.7" text-anchor="middle" font-family='"Liberation Sans", sans-serif'>100</text>
<line x1="42" y1="410.1" x2="47" y2="410.1" stroke="#777" stroke-width="1"/>
<text x="0" y="0" transform="translate(37.2,410.1) rotate(-90)" font-size="7.7" text-anchor="middle" font-family='"Liberation Sans", sans-serif'>14.0</text>
<line x1="42" y1="344.0" x2="47" y2="344.0" stroke="#777" stroke-width="1"/>
<text x="0" y="0" transform="translate(37.2,344.0) rotate(-90)" font-size="7.7" text-anchor="middle" font-family='"Liberation Sans", sans-serif'>14.5</text>
<line x1="42" y1="277.9" x2="47" y2="277.9" stroke="#777" stroke-width="1"/>
<text x="0" y="0" transform="translate(37.2,277.9) rotate(-90)" font-size="7.7" text-anchor="middle" font-family='"Liberation Sans", sans-serif'>15.0</text>
<line x1="42" y1="211.7" x2="47" y2="211.7" stroke="#777" stroke-width="1"/>
<text x="0" y="0" transform="translate(37.2,211.7) rotate(-90)" font-size="7.7" text-anchor="middle" font-family='"Liberation Sans", sans-serif'>15.5</text>
<line x1="42" y1="145.6" x2="47" y2="145.6" stroke="#777" stroke-width="1"/>
<text x="0" y="0" transform="translate(37.2,145.6) rotate(-90)" font-size="7.7" text-anchor="middle" font-family='"Liberation Sans", sans-serif'>16.0</text>
<line x1="42" y1="79.4" x2="47" y2="79.4" stroke="#777" stroke-width="1"/>
<text x="0" y="0" transform="translate(37.2,79.4) rotate(-90)" font-size="7.7" text-anchor="middle" font-family='"Liberation Sans", sans-serif'>16.5</text>
<text x="388" y="32.8" font-size="8.45" font-weight="bold" text-anchor="middle" font-family='"Liberation Sans", sans-serif'>Arctic Sea Ice Extent Day 85 1978 to 2016</text>
<text x="0" y="0" transform="translate(21.4,248.3) rotate(-90)" font-size="7.2" text-anchor="middle" font-family='"Liberation Sans", sans-serif'>Ice Extent in millions of sq. km.</text>
<text x="388" y="482.6" font-size="7.4" text-anchor="middle" font-family='"Liberation Sans", sans-serif'>Day of Year</text>
<text x="387.9" y="491.2" font-size="6.87" style="white-space:pre" text-anchor="middle" font-family='"Liberation Sans", sans-serif'>Today's Ice Extent: 14.439  - Record for the day: 15.964 which occurred on 1983 3 26</text>
<text x="12" y="483.7" font-size="13.95" font-family='"Liberation Sans", sans-serif'>http://sunshinehours.wordpress.com</text>
<rect x="600.5" y="47" width="129.0" height="92.19999999999999" fill="#fff" stroke="#4a4a4a" stroke-width="1"/>
<line x1="605.4" y1="55.4" x2="620.6" y2="55.4" stroke="#ff0000" stroke-width="3.4"/>
<text x="625.6" y="58.1" font-size="6.9" font-family='"Liberation Sans", sans-serif'>2016</text>
<line x1="605.4" y1="63.8" x2="620.6" y2="63.8" stroke="#000" stroke-width="2.6" stroke-dasharray="4.6 5"/>
<text x="625.6" y="66.5" font-size="6.9" font-family='"Liberation Sans", sans-serif'>Mean 1981-2010</text>
<rect x="602.5" y="68.0" width="21" height="8.6" rx="4" fill="#d3d3d3"/>
<text x="625.6" y="75.0" font-size="6.9" font-family='"Liberation Sans", sans-serif'>1 Standard Deviation From Mean</text>
<line x1="605.4" y1="80.7" x2="620.6" y2="80.7" stroke="#000" stroke-width="3"/>
<text x="625.6" y="83.4" font-size="6.9" font-family='"Liberation Sans", sans-serif'>2015</text>
<line x1="605.4" y1="89.1" x2="620.6" y2="89.1" stroke="#ffa500" stroke-width="2.4"/>
<text x="625.6" y="91.8" font-size="6.9" font-family='"Liberation Sans", sans-serif'>2014</text>
<line x1="605.4" y1="97.5" x2="620.6" y2="97.5" stroke="#0000ff" stroke-width="2.4"/>
<text x="625.6" y="100.2" font-size="6.9" font-family='"Liberation Sans", sans-serif'>2013</text>
<line x1="605.4" y1="106.0" x2="620.6" y2="106.0" stroke="#00ff00" stroke-width="2.4"/>
<text x="625.6" y="108.7" font-size="6.9" font-family='"Liberation Sans", sans-serif'>2012</text>
<line x1="605.4" y1="114.4" x2="620.6" y2="114.4" stroke="#a020f0" stroke-width="2.4"/>
<text x="625.6" y="117.1" font-size="6.9" font-family='"Liberation Sans", sans-serif'>2011</text>
<line x1="605.4" y1="122.8" x2="620.6" y2="122.8" stroke="#ffff00" stroke-width="2.4"/>
<text x="625.6" y="125.5" font-size="6.9" font-family='"Liberation Sans", sans-serif'>2010</text>
<line x1="605.4" y1="131.3" x2="620.6" y2="131.3" stroke="#888" stroke-width="1"/>
<text x="625.6" y="134.0" font-size="6.9" font-family='"Liberation Sans", sans-serif'>Every Other Year</text>
<line x1="103.6" y1="47" x2="103.6" y2="450.3" stroke="#e0e0e0" stroke-width="0.8" stroke-dasharray="1 1.4"/>
<line x1="217.4" y1="47" x2="217.4" y2="450.3" stroke="#e0e0e0" stroke-width="0.8" stroke-dasharray="1 1.4"/>
<line x1="331.2" y1="47" x2="331.2" y2="450.3" stroke="#e0e0e0" stroke-width="0.8" stroke-dasharray="1 1.4"/>
<line x1="444.9" y1="47" x2="444.9" y2="450.3" stroke="#e0e0e0" stroke-width="0.8" stroke-dasharray="1 1.4"/>
<line x1="558.7" y1="47" x2="558.7" y2="450.3" stroke="#e0e0e0" stroke-width="0.8" stroke-dasharray="1 1.4"/>
<line x1="672.5" y1="47" x2="672.5" y2="450.3" stroke="#e0e0e0" stroke-width="0.8" stroke-dasharray="1 1.4"/>
<line x1="47" y1="410.1" x2="729.5" y2="410.1" stroke="#e0e0e0" stroke-width="0.8" stroke-dasharray="1 1.4"/>
<line x1="47" y1="344.0" x2="729.5" y2="344.0" stroke="#e0e0e0" stroke-width="0.8" stroke-dasharray="1 1.4"/>
<line x1="47" y1="277.9" x2="729.5" y2="277.9" stroke="#e0e0e0" stroke-width="0.8" stroke-dasharray="1 1.4"/>
<line x1="47" y1="211.7" x2="729.5" y2="211.7" stroke="#e0e0e0" stroke-width="0.8" stroke-dasharray="1 1.4"/>
<line x1="47" y1="145.6" x2="729.5" y2="145.6" stroke="#e0e0e0" stroke-width="0.8" stroke-dasharray="1 1.4"/>
<line x1="47" y1="79.4" x2="729.5" y2="79.4" stroke="#e0e0e0" stroke-width="0.8" stroke-dasharray="1 1.4"/>
</svg></body></html>
